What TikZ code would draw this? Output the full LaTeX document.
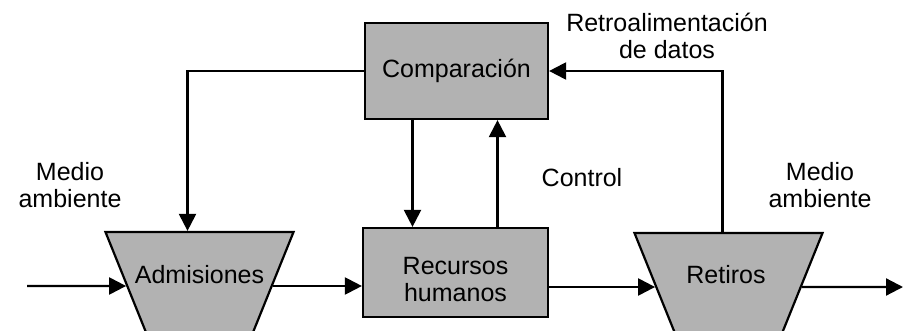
\documentclass[tikz,border=0pt]{standalone}
\usepackage{fontspec}
\setmainfont{Liberation Sans}
\usetikzlibrary{shapes.geometric,arrows.meta}
\begin{document}
\begin{tikzpicture}[x = 0.5pt, y = -0.5pt, line width = 1.1pt,
  font = \fontsize{12.5}{13.5}\selectfont,
  every node/.style = {align = center},
  box/.style = {draw, fill = gray!60, inner sep = 0pt},
  funnel/.style = {draw, fill = gray!60, trapezium, shape border rotate = 180,
    trapezium left angle = 68, trapezium right angle = 68,
    inner sep = 0pt, text width = 50.4pt, text height = 54pt, text depth = 0pt},
  flow/.style = {-{Triangle[length = 8.5pt, width = 8.5pt]}}]
  \useasboundingbox (0,0) rectangle (903,331);
  \clip (0,0) rectangle (903,331);
  \node[box, minimum width = 91.5pt, minimum height = 48pt] (comp) at (456.5,71) {Comparación};
  \node[box, minimum width = 92.5pt, minimum height = 44.5pt] (rh) at (455.5,272.5) {};
  \node (rhtxt) at (455.5,280) {Recursos\\humanos};
  \node[funnel] (adm) at (199.5,286) {};
  \node (admtxt) at (199.5,275) {Admisiones};
  \node[funnel] (ret) at (728.5,287) {};
  \node (rettxt) at (726,275) {Retiros};
  \node (envl) at (70,185) {Medio\\ambiente};
  \node (envr) at (820,185) {Medio\\ambiente};
  \node (ctrl) at (582,178) {Control};
  \node (retro) at (667,36) {Retroalimentación\\de datos};
  \coordinate (inp) at (27,286);
  \coordinate (outp) at (903,287);
  \draw[flow] (inp) -- (adm.west);
  \draw[flow] (adm.east) -- (adm.east -| rh.west);
  \draw[flow] (rh.east |- ret.west) -- (ret.west);
  \draw[flow] (ret.east) -- (outp);
  \draw[flow] (comp.west) -| ([xshift = -6pt]adm.north);
  \draw[flow] ([xshift = -22pt]comp.south) -- ([xshift = -22pt]comp.south |- rh.north);
  \draw[flow] ([xshift = 21pt]rh.north) -- ([xshift = 21pt]rh.north |- comp.south);
  \draw[flow] ([xshift = -3pt]ret.north) |- (comp.east);
\end{tikzpicture}
\end{document}
